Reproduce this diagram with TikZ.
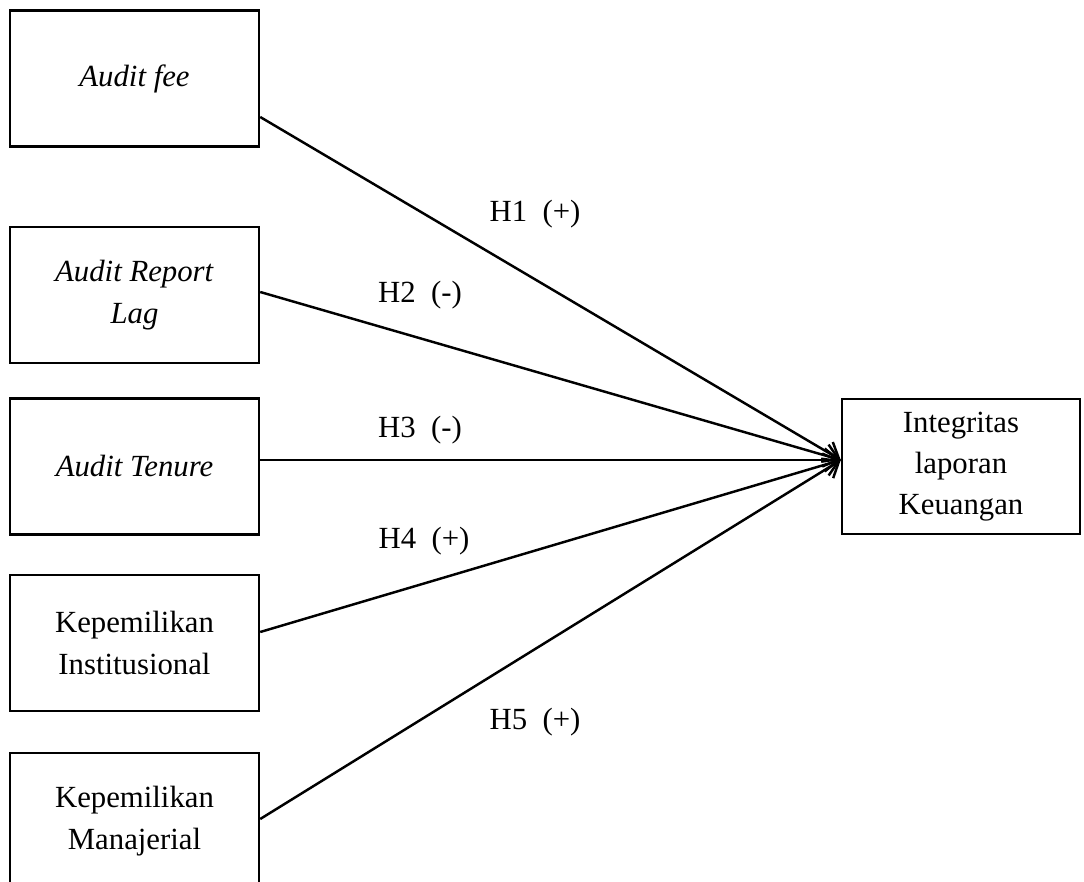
\documentclass[tikz,border=0pt]{standalone}
\usepackage{fontspec}
\setmainfont{Liberation Serif}
\usepackage{tikz}
\usetikzlibrary{arrows.meta,positioning}

\begin{document}
\begin{tikzpicture}[->,var node/.style={rectangle,draw,line width=1.4pt,minimum width=4.98cm,minimum height=2.72cm,align=center,font=\fontsize{17.5}{23.5}\selectfont},hyp node/.style={font=\fontsize{17.5}{23}\selectfont},>={Straight Barb[length=8pt,width=13pt]},line width=1.4pt]

              \useasboundingbox (0,0) rectangle (21.68,-17.64);

              % Define variables by coordinates
              \node[var node] (af) at (2.69,-1.57) {\textit{Audit fee}};
              \node[var node] (arl) at (2.69,-5.9) {\textit{Audit Report}\\\textit{Lag}};
              \node[var node] (at) at (2.69,-9.33) {\textit{Audit Tenure}};
              \node[var node] (ki) at (2.69,-12.86) {Kepemilikan\\Institusional};
              \node[var node] (km) at (2.69,-16.42) {Kepemilikan\\Manajerial};
              \node[var node, minimum width=4.76cm, minimum height=2.7cm] (ilk) at (19.22,-9.33) {Integritas\\laporan\\Keuangan};

              % Hypothesis labels
              \node[hyp node] (h1) at (10.7,-4.28) {H1\ \ (+)};
              \node[hyp node] (h2) at (8.4,-5.9) {H2\ \ (-)};
              \node[hyp node] (h3) at (8.4,-8.6) {H3\ \ (-)};
              \node[hyp node] (h4) at (8.48,-10.82) {H4\ \ (+)};
              \node[hyp node] (h5) at (10.7,-14.44) {H5\ \ (+)};

              % Draw straight arrows
              \path
                ([yshift=-0.77cm]af.east) edge[->] node {} ([yshift=0.13cm]ilk.west)
                ([yshift=0.06cm]arl.east) edge[->] node {} ([yshift=0.13cm]ilk.west)
                ([yshift=0.13cm]at.east) edge[->] node {} ([yshift=0.13cm]ilk.west)
                ([yshift=0.22cm]ki.east) edge[->] node {} ([yshift=0.13cm]ilk.west)
                ([yshift=0.04cm]km.east) edge[->] node {} ([yshift=0.13cm]ilk.west);
            \end{tikzpicture}
\end{document}
